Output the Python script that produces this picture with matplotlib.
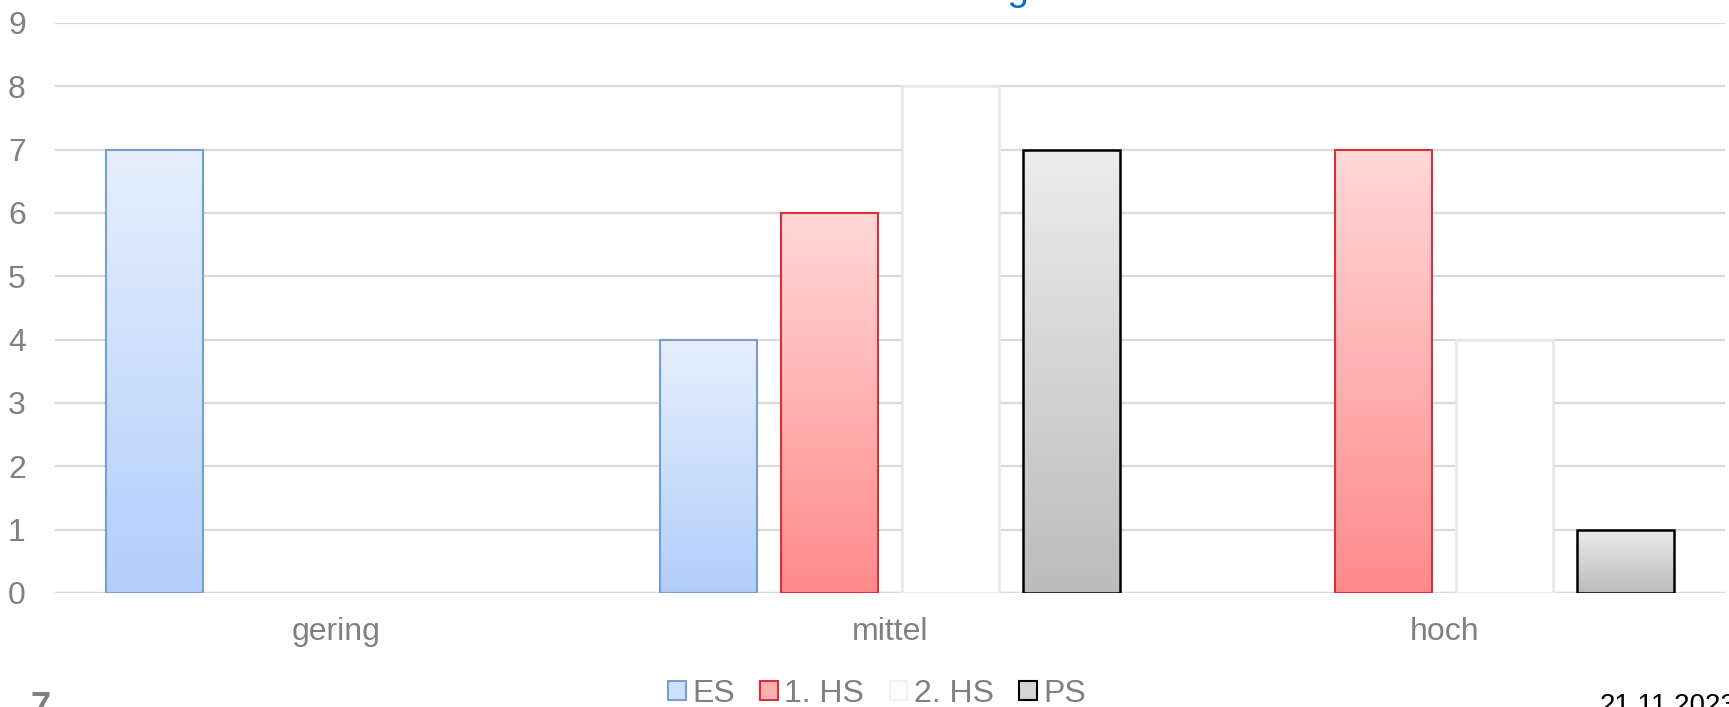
import numpy as np
import matplotlib
matplotlib.use("Agg")
import matplotlib.pyplot as plt
from matplotlib.colors import LinearSegmentedColormap
from matplotlib.patches import Patch

plt.rcParams["font.family"] = ["Liberation Sans", "DejaVu Sans"]

categories = ["gering", "mittel", "hoch"]
series = ["ES", "1. HS", "2. HS", "PS"]
values = {
    "ES":    [7, 4, 0],
    "1. HS": [0, 6, 7],
    "2. HS": [0, 8, 4],
    "PS":    [0, 7, 1],
}
yticks = list(range(0, 10))

styles = {
    "ES":    dict(top="#e6effd", bottom="#b2cefb", edge="#7b9dca", lw=1.5),
    "1. HS": dict(top="#ffd8d8", bottom="#ff8a8a", edge="#d7303c", lw=1.5),
    "2. HS": dict(top="#ffffff", bottom="#ffffff", edge="#e8e8e8", lw=1.8),
    "PS":    dict(top="#ececec", bottom="#bcbcbc", edge="#000000", lw=1.8),
}

W, H = 1729, 707
fig = plt.figure(figsize=(W/100, H/100), dpi=100)
L, R, T, B = 55, 1725, 23, 593
ax = fig.add_axes([L/W, 1-B/H, (R-L)/W, (B-T)/H])

x = np.arange(len(categories))
offset = 0.218
width = 0.175
grad = np.linspace(0, 1, 256).reshape(-1, 1)

for i, s in enumerate(series):
    st = styles[s]
    cmap = LinearSegmentedColormap.from_list(s, [st["bottom"], st["top"]])
    pos = x + (i - 1.5) * offset
    bars = ax.bar(pos, values[s], width=width, facecolor="none",
                  edgecolor=st["edge"], linewidth=st["lw"], zorder=3)
    for b in bars:
        h = b.get_height()
        if h <= 0:
            b.set_visible(False)
            continue
        x0, w = b.get_x(), b.get_width()
        im = ax.imshow(grad, cmap=cmap, origin="lower", aspect="auto",
                       extent=(x0, x0 + w, 0, h), zorder=2.5)
        im.set_clip_path(b)

ax.set_xlim(-0.507, 2.507)
ax.set_ylim(0, 9)
ax.set_yticks(yticks)
ax.set_xticks(x)
ax.set_xticklabels(categories)
ax.tick_params(axis="both", length=0, labelsize=23, labelcolor="#808080")
ax.tick_params(axis="y", pad=21)
ax.tick_params(axis="x", pad=17)
ax.yaxis.grid(True, color="#d9d9d9", linewidth=1.6, zorder=0)
ax.set_axisbelow(True)
for sp in ax.spines.values():
    sp.set_visible(False)
ax.axhline(0, color="#d9d9d9", linewidth=1.6, zorder=1)

handles = [Patch(facecolor=styles[s]["top"], edgecolor=styles[s]["edge"],
                 linewidth=1.5, label=s) for s in series]
handles[0].set_facecolor("#cfe0fc")
handles[1].set_facecolor("#ffb0b0")
handles[2].set_facecolor("#fdfdfd")
handles[2].set_edgecolor("#f2f2f2")
handles[3].set_facecolor("#d4d4d4")
leg = fig.legend(handles=handles, loc="center", bbox_to_anchor=(877/W, 1-694/H),
                 ncol=4, frameon=False, fontsize=23, handlelength=0.55, handleheight=0.55,
                 handletextpad=0.2, columnspacing=0.8, labelcolor="#808080",
                 borderpad=0.0)

fig.text(1030/W, 1.0, "Bewertung", ha="right", va="baseline",
         fontsize=28, color="#0070c0")
fig.text(30/W, 1 - 691/H, "7", ha="left", va="top", fontsize=26,
         fontweight="bold", color="#808080")
fig.text(1600/W, 1 - 693/H, "21.11.2023", ha="left", va="top", fontsize=20,
         color="#000000")

fig.savefig("out.png", dpi=100)
